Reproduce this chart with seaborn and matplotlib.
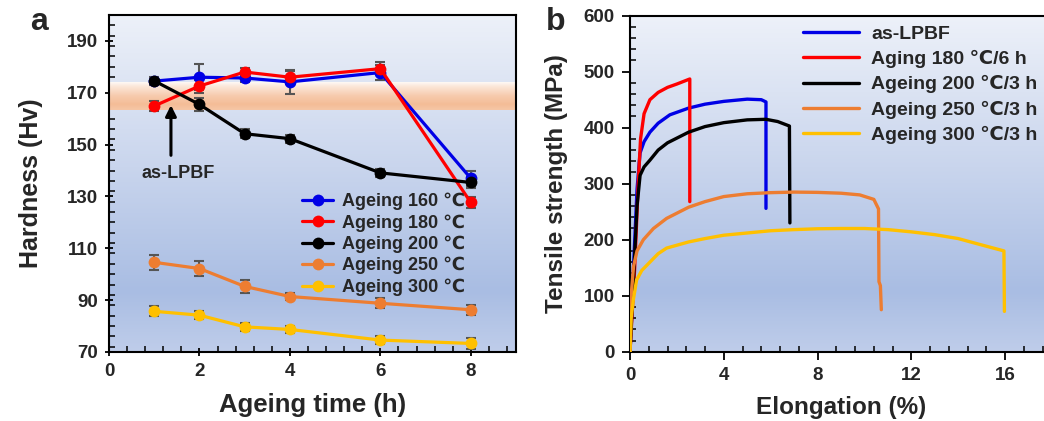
import numpy as np
import pandas as pd
import matplotlib
matplotlib.use("Agg")
import matplotlib.pyplot as plt
from matplotlib.ticker import MultipleLocator
from matplotlib.colors import LinearSegmentedColormap, to_rgb
import seaborn as sns

sns.set_theme(style="white")
plt.rcParams['font.family'] = ['Liberation Sans', 'DejaVu Sans']
plt.rcParams['font.weight'] = 'bold'
plt.rcParams['axes.labelweight'] = 'bold'

# ---------------- data: panel a ----------------
time_h = [1, 2, 3, 4, 6, 8]
hard_160 = [174.5, 176.0, 175.7, 174.2, 177.8, 137.0]
hard_180 = [164.9, 172.6, 178.0, 176.0, 179.3, 127.7]
hard_200 = [174.6, 165.5, 154.2, 152.3, 139.1, 135.4]
hard_250 = [104.6, 102.2, 95.3, 91.4, 88.8, 86.3]
hard_300 = [85.7, 84.2, 79.7, 78.7, 74.6, 73.3]
err_160 = [1.2, 5.0, 1.5, 4.5, 3.0, 3.0]
err_180 = [2.0, 2.5, 1.5, 2.5, 2.5, 2.0]
err_200 = [1.5, 2.5, 1.8, 1.5, 1.5, 2.0]
err_250 = [3.0, 3.0, 2.5, 1.5, 2.0, 2.0]
err_300 = [2.0, 1.5, 1.5, 1.5, 1.5, 2.0]
labels_a = ["Ageing 160 \u2103", "Ageing 180 \u2103", "Ageing 200 \u2103",
            "Ageing 250 \u2103", "Ageing 300 \u2103"]
colors_a = ["#0000e6", "#ff0000", "#000000", "#ed7d31", "#ffc000"]
band_low, band_high = 163.3, 173.9

# ---------------- data: panel b ----------------
el_base = [0, 0.15, 0.3, 0.43, 0.6, 0.85, 1.2, 1.7, 2.5, 3.2, 4.0, 5.0, 5.6, 5.8, 5.8]
st_base = [0, 150, 290, 355, 375, 392, 408, 423, 435, 442, 447, 451, 450, 446, 256]
el_180 = [0, 0.2, 0.35, 0.45, 0.6, 0.85, 1.2, 1.6, 2.0, 2.55, 2.55]
st_180 = [0, 150, 300, 380, 425, 450, 463, 472, 478, 487, 268]
el_200 = [0, 0.15, 0.3, 0.43, 0.6, 0.85, 1.2, 1.6, 2.5, 3.2, 4.0, 5.0, 5.8, 6.3, 6.8, 6.82]
st_200 = [0, 130, 260, 315, 330, 342, 360, 373, 392, 402, 409, 414, 415, 411, 403, 230]
el_250 = [0, 0.05, 0.15, 0.3, 0.57, 1.0, 1.56, 2.5, 3.2, 4.0, 5.0, 6.0, 7.0, 8.0, 9.0, 9.8,
          10.4, 10.6, 10.62, 10.68, 10.72]
st_250 = [0, 100, 152, 180, 200, 220, 238, 258, 268, 277, 282, 284, 285, 284.5, 283, 280,
          272, 255, 125, 118, 75]
el_300 = [0, 0.05, 0.14, 0.28, 0.5, 0.85, 1.2, 1.56, 2.5, 3.2, 4.0, 5.0, 6.0, 7.0, 8.0, 9.0,
          10.0, 11.0, 12.0, 13.0, 14.0, 14.7, 15.5, 15.95, 15.97]
st_300 = [0, 60, 92, 128, 145, 160, 175, 185, 196, 202, 208, 212, 216, 218, 219.5, 220,
          220, 218, 214, 209, 202, 194, 185, 180, 72]
labels_b = ["as-LPBF", "Aging 180 \u2103/6 h", "Ageing 200 \u2103/3 h",
            "Ageing 250 \u2103/3 h", "Ageing 300 \u2103/3 h"]
colors_b = ["#0000e6", "#ff0000", "#000000", "#ed7d31", "#ffc000"]

# ---------------- figure ----------------
fig = plt.figure(figsize=(10.44, 4.21), dpi=100)
axA = fig.add_axes([109/1044, 69/421, 407/1044, 337/421])
axB = fig.add_axes([630/1044, 69.3/421, 422/1044, 336/421])

bg_cmap = LinearSegmentedColormap.from_list(
    "bg", [(0.0, "#edf1f9"), (0.45, "#c9d5ed"), (0.82, "#a9bde3"), (1.0, "#bfcdea")])
grad = np.linspace(0, 1, 256).reshape(-1, 1)
for ax in (axA, axB):
    ax.imshow(grad, cmap=bg_cmap, extent=[0, 1, 0, 1], transform=ax.transAxes,
              aspect="auto", zorder=0, origin="upper", interpolation="bilinear")

# band in panel a
t = np.linspace(0, 1, 64)
prof = np.interp(t, [0, 0.15, 0.5, 0.8, 1.0], [0.08, 0.3, 0.65, 0.82, 0.7])
orange = np.array(to_rgb("#f2ae80"))
band = np.ones((64, 1, 3)) * (1 - prof[:, None, None]) + orange[None, None, :] * prof[:, None, None]
axA.imshow(band, extent=[0, 9, band_low, band_high], aspect="auto", origin="upper",
           zorder=1, interpolation="bilinear")

# panel a lines
series_a = [hard_160, hard_180, hard_200, hard_250, hard_300]
errs_a = [err_160, err_180, err_200, err_250, err_300]
rows = []
for lab, vals in zip(labels_a, series_a):
    for tt, v in zip(time_h, vals):
        rows.append({"time": tt, "hardness": v, "group": lab})
dfa = pd.DataFrame(rows)
for vals, er in zip(series_a, errs_a):
    axA.errorbar(time_h, vals, yerr=er, fmt="none", ecolor="#555555", elinewidth=1.5,
                 capsize=3.5, capthick=1.5, zorder=2)
sns.lineplot(data=dfa, x="time", y="hardness", hue="group", palette=colors_a,
             hue_order=labels_a, marker="o", markersize=8.5, markeredgewidth=0,
             linewidth=2.3, ax=axA, zorder=3)
axA.set_xlim(0, 9)
axA.set_ylim(70, 200)
axA.xaxis.set_major_locator(MultipleLocator(2))
axA.xaxis.set_minor_locator(MultipleLocator(0.4))
axA.set_yticks([70, 90, 110, 130, 150, 170, 190])
axA.yaxis.set_minor_locator(MultipleLocator(4))
axA.set_xticks([0, 2, 4, 6, 8])
axA.set_xlabel("Ageing time (h)", fontsize=18.5, fontweight="bold", labelpad=9)
axA.set_ylabel("Hardness (Hv)", fontsize=18, fontweight="bold", labelpad=17)
axA.annotate("", xy=(1.37, 166.3), xytext=(1.37, 144.8),
             arrowprops=dict(arrowstyle="-|>", color="black", lw=2.2, mutation_scale=16),
             zorder=4)
axA.text(1.52, 139.0, "as-LPBF", fontsize=13, fontweight="bold", ha="center", va="center")
legA = axA.legend(loc="upper left", bbox_to_anchor=(0.475, 0.473), frameon=False,
                  fontsize=13, handlelength=1.7, handletextpad=0.5, labelspacing=0.22,
                  borderpad=0, borderaxespad=0)
for txt in legA.get_texts():
    txt.set_fontweight("bold")

# panel b lines
curves = [(el_base, st_base), (el_180, st_180), (el_200, st_200), (el_250, st_250), (el_300, st_300)]
rows = []
for lab, (xs, ys) in zip(labels_b, curves):
    for i, (xv, yv) in enumerate(zip(xs, ys)):
        rows.append({"elong": xv, "stress": yv, "group": lab, "order": i})
dfb = pd.DataFrame(rows)
sns.lineplot(data=dfb, x="elong", y="stress", hue="group", palette=colors_b,
             hue_order=labels_b, sort=False, estimator=None, units="group",
             linewidth=2.4, ax=axB, zorder=3)
axB.set_xlim(0, 18)
axB.set_ylim(0, 600)
axB.set_xticks([0, 4, 8, 12, 16])
axB.xaxis.set_minor_locator(MultipleLocator(0.8))
axB.yaxis.set_major_locator(MultipleLocator(100))
axB.yaxis.set_minor_locator(MultipleLocator(20))
axB.set_xlabel("Elongation (%)", fontsize=17.5, fontweight="bold", labelpad=9)
axB.set_ylabel("Tensile strength (MPa)", fontsize=17.5, fontweight="bold", labelpad=11)
legB = axB.legend(loc="upper left", bbox_to_anchor=(0.41, 0.972), frameon=False,
                  fontsize=14, handlelength=2.9, handletextpad=0.6, labelspacing=0.37,
                  borderpad=0, borderaxespad=0)
for txt in legB.get_texts():
    txt.set_fontweight("bold")

for ax, majdir in ((axA, "inout"), (axB, "out")):
    for s in ax.spines.values():
        s.set_color("black")
        s.set_linewidth(1.5)
        s.set_visible(True)
    ax.tick_params(which="major", direction=majdir, length=6, width=1.3, color="black",
                   labelsize=13.5, pad=5)
    ax.tick_params(which="minor", direction="in", length=4, width=1.1, color="black")
    ax.tick_params(axis="both", which="both", bottom=True, left=True, top=False, right=False)
    for lab in ax.get_xticklabels() + ax.get_yticklabels():
        lab.set_fontweight("bold")
    ax.grid(False)

fig.text(30/1044, 1 - 22/421, "a", fontsize=23, fontweight="bold", ha="left", va="center")
fig.text(546/1044, 1 - 22/421, "b", fontsize=23, fontweight="bold", ha="left", va="center")

fig.savefig("out.png", dpi=100)
